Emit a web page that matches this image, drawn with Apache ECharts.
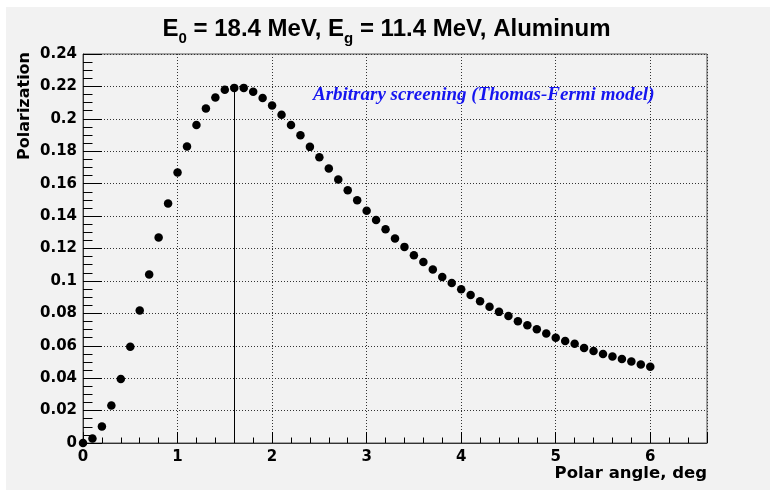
<!DOCTYPE html>
<html>
<head>
<meta charset="utf-8">
<script src="https://cdn.jsdelivr.net/npm/echarts@6/dist/echarts.min.js"></script>
<style>
  html, body { margin: 0; padding: 0; background: #ffffff; }
  #chart { width: 773px; height: 492px; }
</style>
</head>
<body>
<div id="chart"></div>
<script>
// ---- data ----
const angles = [
  0.0, 0.1, 0.2, 0.3, 0.4, 0.5, 0.6, 0.7, 0.8, 0.9,
  1.0, 1.1, 1.2, 1.3, 1.4, 1.5, 1.6, 1.7, 1.8, 1.9,
  2.0, 2.1, 2.2, 2.3, 2.4, 2.5, 2.6, 2.7, 2.8, 2.9,
  3.0, 3.1, 3.2, 3.3, 3.4, 3.5, 3.6, 3.7, 3.8, 3.9,
  4.0, 4.1, 4.2, 4.3, 4.4, 4.5, 4.6, 4.7, 4.8, 4.9,
  5.0, 5.1, 5.2, 5.3, 5.4, 5.5, 5.6, 5.7, 5.8, 5.9,
  6.0
];
const polarization = [
  0.0000, 0.0028, 0.0102, 0.0231, 0.0395, 0.0594, 0.0817, 0.1040, 0.1268, 0.1478,
  0.1669, 0.1829, 0.1962, 0.2064, 0.2132, 0.2179, 0.2191, 0.2191, 0.2167, 0.2128,
  0.2082, 0.2025, 0.1962, 0.1898, 0.1827, 0.1763, 0.1693, 0.1626, 0.1560, 0.1497,
  0.1433, 0.1376, 0.1319, 0.1261, 0.1210, 0.1159, 0.1116, 0.1071, 0.1024, 0.0987,
  0.0948, 0.0913, 0.0874, 0.0841, 0.0809, 0.0784, 0.0751, 0.0727, 0.0702, 0.0675,
  0.0649, 0.0630, 0.0612, 0.0586, 0.0567, 0.0549, 0.0534, 0.0518, 0.0503, 0.0485,
  0.0471
];
const peakAngle = 1.6;
const peakValue = 0.2191;
const xTickLabels = ['0', '1', '2', '3', '4', '5', '6'];

const titleText = '{b|E}{s|0}{b| = 18.4 MeV, E}{s|g}{b| = 11.4 MeV, Aluminum}';
const xTitle = 'Polar angle, deg';
const yTitle = 'Polarization';
const noteText = 'Arbitrary screening (Thomas-Fermi model)';

// ---- chart ----
const points = angles.map((a, i) => [a, polarization[i]]);
const axisFont = 'DejaVu Sans';
const chart = echarts.init(document.getElementById('chart'), null, { renderer: 'canvas' });

chart.setOption({
  animation: false,
  backgroundColor: '#ffffff',
  title: {
    text: titleText,
    left: 'center',
    top: 12,
    textStyle: {
      rich: {
        b: { fontFamily: 'Liberation Sans, Arial', fontWeight: 'bold', fontSize: 24, color: '#000', lineHeight: 24, verticalAlign: 'top' },
        s: { fontFamily: 'Liberation Sans, Arial', fontWeight: 'bold', fontSize: 15, color: '#000', lineHeight: 15, verticalAlign: 'top', padding: [14, 0, 0, 0] }
      }
    }
  },
  graphic: [
    { type: 'rect', z: -10, silent: true, shape: { x: 6, y: 7, width: 764, height: 483 }, style: { fill: '#f2f2f2' } },
    { type: 'text', z: 10, silent: true, left: 17, top: 52,
      style: { text: yTitle, font: 'bold 16px "DejaVu Sans"', fill: '#000' }, rotation: Math.PI / 2,
      originX: 0, originY: 0 },
    { type: 'text', z: 10, silent: true, right: 66, top: 465,
      style: { text: xTitle, font: 'bold 16.5px "DejaVu Sans"', fill: '#000' } },
    { type: 'text', z: 10, silent: true, left: 313, top: 86,
      style: { text: noteText, font: 'italic bold 19px "Liberation Serif"', fill: '#1515f0' } }
  ],
  grid: {
    left: 83, top: 54, width: 624, height: 389,
    show: true, borderColor: '#555', borderWidth: 1, backgroundColor: 'transparent'
  },
  xAxis: [
    {
      type: 'value', position: 'bottom', min: 0, max: 6.6, interval: 1,
      axisLine: { show: true, onZero: false, lineStyle: { color: '#333', width: 1 } },
      axisTick: { show: true, inside: true, length: 11, lineStyle: { color: '#000', width: 1 } },
      axisLabel: {
        margin: 7, color: '#000', fontFamily: axisFont, fontWeight: 'bold', fontSize: 15,
        formatter: function (v) { const r = Math.round(v); return Math.abs(v - r) < 1e-6 && r < xTickLabels.length ? xTickLabels[r] : ''; }
      },
      splitLine: { show: true, lineStyle: { color: '#333', type: [1, 2], width: 1 } }
    },
    {
      type: 'value', position: 'bottom', min: 0, max: 6.6, interval: 0.2,
      axisLine: { show: false },
      axisTick: { show: true, inside: true, length: 5.5, lineStyle: { color: '#000', width: 1 } },
      axisLabel: { show: false },
      splitLine: { show: false }
    }
  ],
  yAxis: [
    {
      type: 'value', position: 'left', min: 0, max: 0.24, interval: 0.02,
      axisLine: { show: true, onZero: false, lineStyle: { color: '#333', width: 1 } },
      axisTick: { show: true, inside: true, length: 19, lineStyle: { color: '#000', width: 1 } },
      axisLabel: { margin: 6, color: '#000', fontFamily: axisFont, fontWeight: 'bold', fontSize: 15 },
      splitLine: { show: true, lineStyle: { color: '#333', type: [1, 2], width: 1 } }
    },
    {
      type: 'value', position: 'left', min: 0, max: 0.24, interval: 0.005,
      axisLine: { show: false },
      axisTick: { show: true, inside: true, length: 9.5, lineStyle: { color: '#000', width: 1 } },
      axisLabel: { show: false },
      splitLine: { show: false }
    }
  ],
  series: [
    {
      type: 'scatter',
      xAxisIndex: 0, yAxisIndex: 0,
      data: points,
      symbol: 'circle', symbolSize: 8.5,
      itemStyle: { color: '#000', opacity: 1 },
      z: 5,
      markLine: {
        silent: true, symbol: ['none', 'none'], label: { show: false },
        lineStyle: { color: '#000', width: 1, type: 'solid', opacity: 1 },
        data: [[{ coord: [peakAngle, 0] }, { coord: [peakAngle, peakValue] }]]
      }
    }
  ]
});
</script>
</body>
</html>
